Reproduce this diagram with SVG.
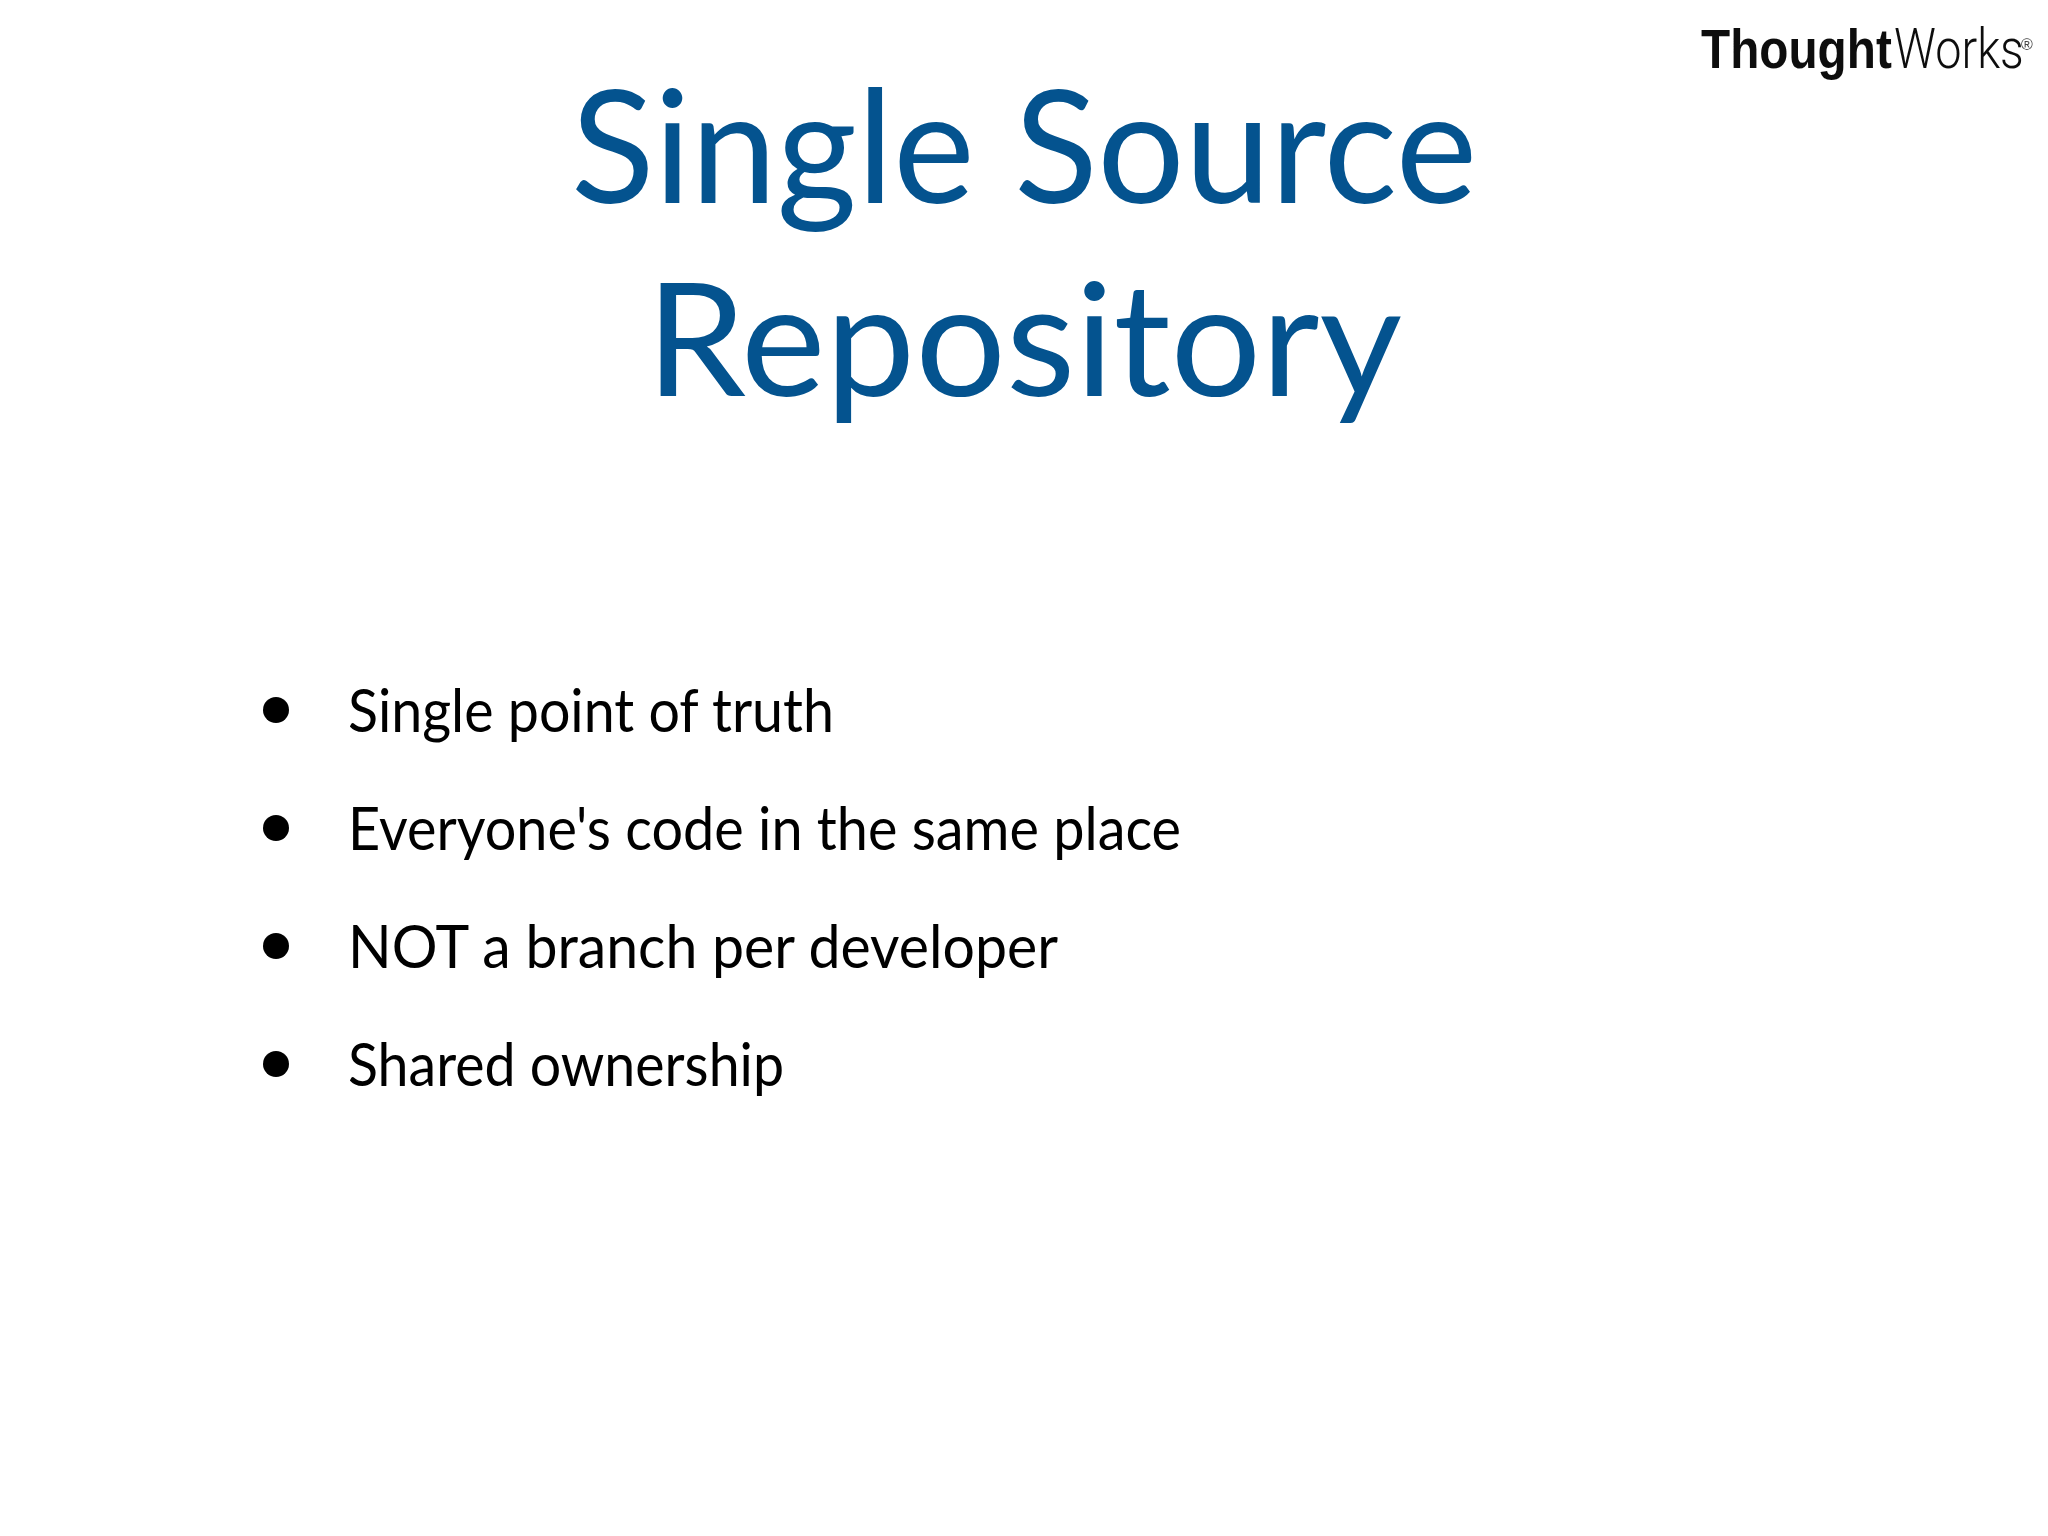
<svg xmlns="http://www.w3.org/2000/svg" width="2048" height="1536" viewBox="0 0 2048 1536">
<style>
.title{font-family:"Lato","Noto Sans",sans-serif;font-size:158px;fill:#04538f}
.item{font-family:"Lato","Noto Sans",sans-serif;font-size:60px;fill:#000}
.bullet{fill:#000}
.logo{font-size:55px;fill:#111}
</style>
<defs><filter id="soft" x="-5%" y="-20%" width="110%" height="140%"><feGaussianBlur stdDeviation="0.7"/></filter></defs>
<rect width="2048" height="1536" fill="#fff"/>
<g id="title">
<text class="title" x="571" y="203" textLength="906" lengthAdjust="spacingAndGlyphs">Single Source</text>
<text class="title" x="646" y="396" textLength="756" lengthAdjust="spacingAndGlyphs">Repository</text>
</g>
<g id="logo" filter="url(#soft)">
<text class="logo" transform="translate(1701 68) scale(.868 1)" font-family="Liberation Sans,Arial,sans-serif" font-weight="700">Thought</text>
<text class="logo" transform="translate(1894 68) scale(.85 1)" font-family="Roboto,sans-serif" font-weight="300">Works</text>
<text x="2021" y="50" font-family="Liberation Sans,sans-serif" font-size="16" fill="#444">®</text>
</g>
<g id="item1"><circle class="bullet" cx="276" cy="710" r="13"/><text class="item" x="348" y="732" textLength="486" lengthAdjust="spacingAndGlyphs">Single point of truth</text></g>
<g id="item2"><circle class="bullet" cx="276" cy="828" r="13"/><text class="item" x="348" y="850" textLength="833" lengthAdjust="spacingAndGlyphs">Everyone's code in the same place</text></g>
<g id="item3"><circle class="bullet" cx="276" cy="946" r="13"/><text class="item" x="348" y="968" textLength="710" lengthAdjust="spacingAndGlyphs">NOT a branch per developer</text></g>
<g id="item4"><circle class="bullet" cx="276" cy="1064" r="13"/><text class="item" x="348" y="1086" textLength="436" lengthAdjust="spacingAndGlyphs">Shared ownership</text></g>
</svg>
